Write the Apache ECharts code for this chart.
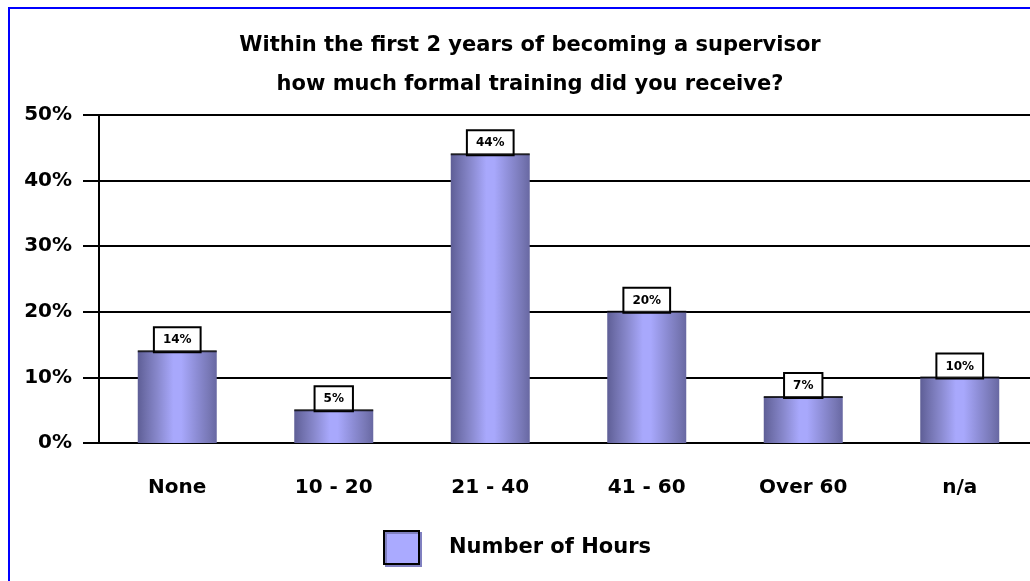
<!DOCTYPE html>
<html>
<head>
<meta charset="utf-8">
<script src="https://cdn.jsdelivr.net/npm/echarts@6/dist/echarts.min.js"></script>
<style>
  html, body { margin: 0; padding: 0; background: #fff; overflow: hidden; width: 1030px; height: 581px; }
  #frame { position: absolute; left: 8px; top: 7px; width: 1100px; height: 700px;
           border-left: 2px solid #0000ff; border-top: 2px solid #0000ff; }
  #chart { position: absolute; left: 0; top: 0; width: 1038px; height: 581px; }
</style>
</head>
<body>
<div id="frame"></div>
<div id="chart"></div>
<script>
var categories = ["None", "10 - 20", "21 - 40", "41 - 60", "Over 60", "n/a"];
var hoursValues = [14, 5, 44, 20, 7, 10];
var yTicks = [0, 10, 20, 30, 40, 50];
var seriesName = "Number of Hours";

var myChart = echarts.init(document.getElementById('chart'));

// stepped look of the old bar fill: dark edges, light middle
var barFill = new echarts.graphic.LinearGradient(0, 0, 1, 0, [
    { offset: 0, color: '#5e5e96' },
    { offset: 0.1, color: '#7070ac' },
    { offset: 0.25, color: '#8888cc' },
    { offset: 0.45, color: '#a8a8fc' },
    { offset: 0.55, color: '#a8a8fc' },
    { offset: 0.75, color: '#8c8cd4' },
    { offset: 0.9, color: '#7878b6' },
    { offset: 1, color: '#6868a2' }
]);

var boldFont = 'DejaVu Sans';

var option = {
    animation: false,
    backgroundColor: 'transparent',
    title: {
        text: 'Within the first 2 years of becoming a supervisor\nhow much formal training did you receive?',
        left: 525,
        textAlign: 'center',
        top: 21,
        textStyle: {
            fontFamily: boldFont,
            fontWeight: 'bold',
            fontSize: 21,
            lineHeight: 39,
            color: '#000'
        }
    },
    legend: {
        left: 378,
        top: 525,
        itemWidth: 35,
        itemHeight: 33,
        data: [{
            name: seriesName,
            icon: 'rect',
            itemStyle: { color: '#aaaaff', borderColor: '#000', borderWidth: 2,
                         shadowColor: '#8080c0', shadowOffsetX: 2, shadowOffsetY: 2 }
        }],
        textStyle: {
            fontFamily: boldFont,
            fontWeight: 'bold',
            fontSize: 21,
            color: '#000',
            padding: [0, 0, 0, 25]
        }
    },
    grid: { left: 99, top: 115, bottom: 138, right: 0 },
    xAxis: {
        type: 'category',
        data: categories,
        axisLine: { lineStyle: { color: '#000', width: 2 } },
        axisTick: { alignWithLabel: true, length: 14, lineStyle: { color: '#000', width: 2 } },
        axisLabel: {
            margin: 35,
            fontFamily: boldFont,
            fontWeight: 'bold',
            fontSize: 20,
            color: '#000'
        }
    },
    yAxis: {
        type: 'value',
        min: yTicks[0],
        max: yTicks[yTicks.length - 1],
        interval: 10,
        axisLine: { show: true, lineStyle: { color: '#000', width: 2 } },
        axisTick: { show: true, length: 16, lineStyle: { color: '#000', width: 2 } },
        splitLine: { lineStyle: { color: '#000', width: 2 } },
        axisLabel: {
            margin: 27,
            formatter: '{value}%',
            fontFamily: boldFont,
            fontWeight: 'bold',
            fontSize: 20,
            color: '#000'
        }
    },
    series: [
        {
            name: seriesName,
            type: 'bar',
            barWidth: 79,
            data: hoursValues,
            itemStyle: { color: barFill },
            label: {
                show: true,
                position: 'top',
                distance: 0,
                formatter: '{c}%',
                fontFamily: boldFont,
                fontWeight: 'bold',
                fontSize: 12,
                color: '#000',
                backgroundColor: '#fff',
                borderColor: '#000',
                borderWidth: 2,
                padding: [6, 8, 5, 8]
            },
            z: 2
        },
        {
            // black top edge on each bar
            name: 'barTop',
            type: 'scatter',
            data: hoursValues,
            symbol: 'rect',
            symbolSize: [79, 2],
            itemStyle: { color: '#000' },
            silent: true,
            z: 3
        }
    ]
};

myChart.setOption(option);
</script>
</body>
</html>
